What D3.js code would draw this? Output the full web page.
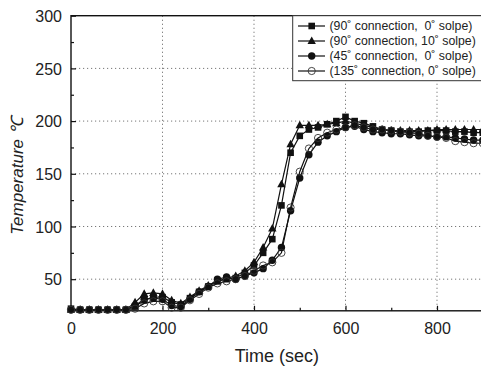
<!DOCTYPE html>
<html><head><meta charset="utf-8">
<script src="https://cdn.jsdelivr.net/npm/d3@7"></script>
<style>
html,body{margin:0;padding:0;background:#fff;overflow:hidden}
svg{display:block;font-family:"Liberation Sans",Arial,sans-serif}
</style></head>
<body>
<script>
const times = d3.range(0, 901, 20);
const sq90_0 = [22,21,21,21,21,21,21,24,30,33,33,28,26,32,38,43,48,50,51,56,63,75,88,120,170,186,192,194,197,200,204,200,198,195,192,191,190,190,190,191,191,191,190,190,189,189];
const tri90_10 = [21,21,21,21,21,21,21,28,36,37,36,30,27,33,39,44,48,51,53,58,66,80,98,140,178,196,196,196,197,198,200,198,196,194,192,191,191,191,191,191,192,192,192,192,192,192];
const circ45_0 = [21,21,21,21,21,21,21,25,31,32,31,25,24,31,38,43,50,52,50,53,56,60,68,80,115,146,168,180,186,190,194,195,192,190,189,188,188,187,186,186,185,185,184,183,182,182];
const open135_0 = [21,21,21,21,21,21,21,22,27,29,29,23,23,30,36,42,46,48,50,53,58,63,66,75,118,152,174,184,189,192,194,196,194,192,192,191,190,189,188,186,185,184,181,180,179,179];
const seriesNames = ["(90\u02DA connection,  0\u02DA solpe)","(90\u02DA connection, 10\u02DA solpe)","(45\u02DA connection,  0\u02DA solpe)","(135\u02DA connection, 0\u02DA solpe)"];
const seriesValues = [sq90_0, tri90_10, circ45_0, open135_0];
const seriesSymbols = ["square","triangle","circle","open"];
const xTicks = [0,200,400,600,800];
const yTicks = [50,100,150,200,250,300];

const W = 481, H = 366;
const m = {left:71, top:15.7, right:482.75, bottom:310.8};
const svg = d3.select("body").append("svg").attr("width",W).attr("height",H);
const x = d3.scaleLinear().domain([0,900]).range([m.left,m.right]);
const y = d3.scaleLinear().domain([20,300]).range([m.bottom,m.top]);

// grid
const grid = svg.append("g").attr("stroke","#777").attr("stroke-width",1).attr("stroke-dasharray","1.2,2.8");
grid.selectAll("line.gx").data(xTicks.filter(d=>d>0)).join("line")
  .attr("x1",d=>x(d)).attr("x2",d=>x(d)).attr("y1",m.top).attr("y2",m.bottom);
grid.selectAll("line.gy").data(yTicks.filter(d=>d<300)).join("line")
  .attr("y1",d=>y(d)).attr("y2",d=>y(d)).attr("x1",m.left).attr("x2",m.right);

// axes
const xAx = svg.append("g").attr("transform",`translate(0,${m.bottom})`)
  .call(d3.axisBottom(x).tickValues(xTicks).tickSize(-5).tickPadding(9).tickFormat(d3.format("d")));
const xMinor = svg.append("g").attr("transform",`translate(0,${m.bottom})`)
  .call(d3.axisBottom(x).tickValues([100,300,500,700,900]).tickSize(-3).tickFormat(""));
const yAx = svg.append("g").attr("transform",`translate(${m.left},0)`)
  .call(d3.axisLeft(y).tickValues(yTicks).tickSize(-5).tickPadding(9).tickFormat(d3.format("d")));
const yMinor = svg.append("g").attr("transform",`translate(${m.left},0)`)
  .call(d3.axisLeft(y).tickValues([75,125,175,225,275]).tickSize(-3).tickFormat(""));
[xAx,xMinor,yAx,yMinor].forEach(g=>{
  g.select(".domain").remove();
  g.selectAll("line").attr("stroke","#111").attr("stroke-width",1.2);
  g.selectAll("text").attr("fill","#222").style("font-size","16px");
});
xAx.selectAll("text").attr("dy","0.9em");
yAx.selectAll("text").attr("dy","0.36em");

// frame
svg.append("rect").attr("x",m.left).attr("y",m.top).attr("width",m.right-m.left).attr("height",m.bottom-m.top)
  .attr("fill","none").attr("stroke","#111").attr("stroke-width",1.4);

// series
const plot = svg.append("g");
const line = d3.line().x((d,i)=>x(times[i])).y(d=>y(d));
function drawSym(g, type, cx, cy){
  if(type==="square") g.append("rect").attr("x",cx-3.3).attr("y",cy-3.3).attr("width",6.6).attr("height",6.6).attr("fill","#111");
  else if(type==="triangle") g.append("path").attr("d",`M${cx},${cy-4.6}L${cx+4.2},${cy+3}L${cx-4.2},${cy+3}Z`).attr("fill","#111");
  else if(type==="circle") g.append("circle").attr("cx",cx).attr("cy",cy).attr("r",3.7).attr("fill","#111");
  else g.append("circle").attr("cx",cx).attr("cy",cy).attr("r",3.6).attr("fill","none").attr("stroke","#333").attr("stroke-width",0.9);
}
seriesValues.forEach((vals,k)=>{
  plot.append("path").datum(vals).attr("d",line).attr("fill","none").attr("stroke","#111").attr("stroke-width",1.2);
  const g = plot.append("g");
  vals.forEach((v,i)=>drawSym(g, seriesSymbols[k], x(times[i]), y(v)));
});

// labels
svg.append("text").attr("x",(m.left+m.right)/2).attr("y",362).attr("text-anchor","middle")
  .attr("fill","#222").style("font-size","18px").text("Time (sec)");
svg.append("text").attr("transform","translate(23,176) rotate(-90)").attr("text-anchor","middle")
  .attr("fill","#222").style("font-size","17px").style("font-style","italic").text("Temperature \u2103");

// legend
const lg = svg.append("g");
lg.append("rect").attr("x",292.7).attr("y",m.top).attr("width",200).attr("height",65)
  .attr("fill","#fff").attr("stroke","#333").attr("stroke-width",1);
seriesNames.forEach((name,k)=>{
  const yy = 26 + k*15;
  lg.append("line").attr("x1",298).attr("x2",325).attr("y1",yy).attr("y2",yy).attr("stroke","#111").attr("stroke-width",1.2);
  drawSym(lg, seriesSymbols[k], 311.7, yy);
  lg.append("text").attr("x",329.5).attr("y",yy).attr("dy","0.35em").attr("fill","#222")
    .style("font-size","12.3px").style("white-space","pre").text(name);
});
</script>
</body></html>
